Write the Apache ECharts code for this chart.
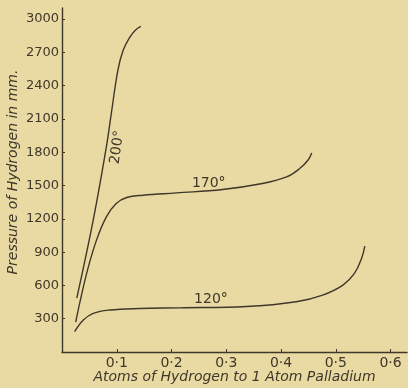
<!DOCTYPE html>
<html>
<head>
<meta charset="utf-8">
<script src="https://cdn.jsdelivr.net/npm/echarts@6/dist/echarts.min.js"></script>
<style>
  html, body { margin: 0; padding: 0; background: #e9d9a2; }
  #chart { width: 408px; height: 388px; }
</style>
</head>
<body>
<div id="chart"></div>
<script>
// curve values (x: atoms H per atom Pd, y: pressure in mm)
var x200 = [0.027, 0.057, 0.081, 0.090, 0.102, 0.1115, 0.124, 0.134, 0.144];
var y200 = [486, 1188, 1848, 2148, 2538, 2718, 2838, 2900, 2934];

var x170 = [0.025, 0.045, 0.063, 0.081, 0.099, 0.118, 0.148, 0.209, 0.293, 0.366, 0.41, 0.434, 0.449, 0.456];
var y170 = [270, 708, 1008, 1218, 1338, 1392, 1413, 1434, 1464, 1518, 1578, 1653, 1728, 1794];

var x120 = [0.023, 0.039, 0.057, 0.087, 0.142, 0.215, 0.337, 0.428, 0.476, 0.513, 0.534, 0.547, 0.553];
var y120 = [183, 288, 348, 378, 392, 398, 410, 453, 513, 603, 708, 843, 954];

var xTicks = [0.1, 0.2, 0.3, 0.4, 0.5, 0.6];
var xTickLabels = ['0\u00b71', '0\u00b72', '0\u00b73', '0\u00b74', '0\u00b75', '0\u00b76'];
var yTicks = [300, 600, 900, 1200, 1500, 1800, 2100, 2400, 2700, 3000];

// where the temperature labels sit (data coords)
var curveLabels = [
  { name: '200°', at: [0.101, 1845], rotate: 82 },
  { name: '170°', at: [0.268, 1524], rotate: 0 },
  { name: '120°', at: [0.272, 477], rotate: 0 }
];

var ink = '#3f382a';

function zip(xs, ys) {
  return xs.map(function (v, i) { return [v, ys[i]]; });
}

function curve(name, xs, ys, lab) {
  return {
    name: name,
    type: 'line',
    data: zip(xs, ys),
    smooth: 0.4,
    symbol: 'none',
    lineStyle: { color: ink, width: 1.4 },
    markPoint: {
      symbol: 'circle',
      symbolSize: 0,
      data: [{ coord: lab.at, value: lab.name }],
      label: {
        show: true,
        position: 'inside',
        formatter: lab.name,
        rotate: lab.rotate,
        color: ink,
        fontSize: 14,
        fontFamily: 'DejaVu Sans'
      }
    }
  };
}

var myChart = echarts.init(document.getElementById('chart'));

var option = {
  backgroundColor: '#e9d9a2',
  animation: false,
  grid: { left: 62, right: 1, top: 8, bottom: 36, outerBoundsMode: 'none', containLabel: false },
  xAxis: {
    type: 'value',
    min: 0,
    max: 0.63,
    name: 'Atoms of Hydrogen to 1 Atom Palladium',
    nameLocation: 'middle',
    nameGap: 18,
    nameMoveOverlap: false,
    nameTextStyle: { color: ink, fontSize: 14, fontStyle: 'italic', fontFamily: 'DejaVu Sans' },
    axisLine: { lineStyle: { color: ink, width: 1.4 } },
    axisTick: { inside: true, length: 3, customValues: xTicks, lineStyle: { color: ink } },
    axisLabel: {
      customValues: xTicks,
      margin: 4,
      color: ink,
      fontSize: 14,
      fontFamily: 'DejaVu Sans',
      formatter: function (v) { return xTickLabels[Math.round(v * 10) - 1]; }
    },
    splitLine: { show: false }
  },
  yAxis: {
    type: 'value',
    min: 0,
    max: 3100,
    name: 'Pressure of Hydrogen in mm.',
    nameLocation: 'middle',
    nameGap: 42,
    nameMoveOverlap: false,
    nameTextStyle: { color: ink, fontSize: 14, fontStyle: 'italic', fontFamily: 'DejaVu Sans', padding: [0, 0, 0, 16] },
    axisLine: { show: true, lineStyle: { color: ink, width: 1.4 } },
    axisTick: { show: true, inside: true, length: 3, customValues: yTicks, lineStyle: { color: ink } },
    axisLabel: {
      customValues: yTicks,
      margin: 3,
      color: ink,
      fontSize: 13,
      fontFamily: 'DejaVu Sans',
      formatter: function (v) { return String(v); }
    },
    splitLine: { show: false }
  },
  series: [
    curve('200', x200, y200, curveLabels[0]),
    curve('170', x170, y170, curveLabels[1]),
    curve('120', x120, y120, curveLabels[2])
  ]
};

myChart.setOption(option);
</script>
</body>
</html>
